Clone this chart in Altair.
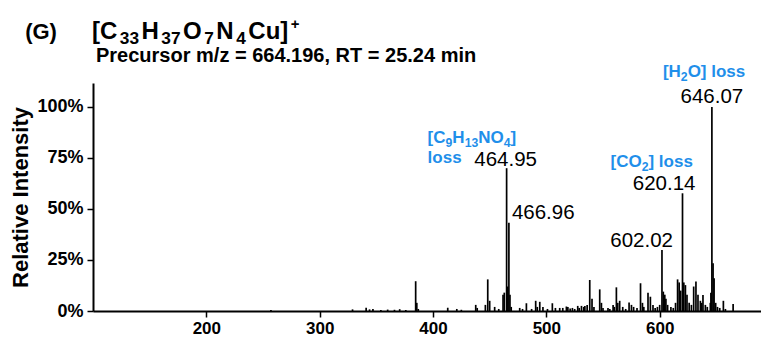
import altair as alt
import pandas as pd

FONT = "Liberation Sans"
BLUE = "#1f8fea"

# ---- spectrum peaks (m/z, relative intensity %) ----
peak_mz = [257, 329, 341, 344, 347, 354, 360, 366, 370.6, 376,
           384.7, 385.7, 387, 413, 421, 425, 437.7, 439, 446.2, 448.3,
           450, 454.4, 458, 461.8, 462.9, 464.95, 465.9, 466.96, 467.9, 469,
           476.5, 479, 482.4, 487, 490.6, 492, 494.2, 497, 501, 505.3,
           508, 511.8, 514.5, 517.7, 519, 521, 523, 525, 527.7, 529,
           531, 533, 534, 536, 538.3, 540.3, 542, 547.1, 548.6, 550,
           554.4, 556, 558.9, 560, 561.8, 563, 564.7, 567.4, 570, 573,
           575.1, 577, 580, 583.1, 584.8, 586, 589.7, 591.8, 594.1, 596,
           598, 600, 602.02, 603.2, 604.5, 605.5, 607, 609.9, 612, 614,
           615.8, 617.2, 618.5, 620.14, 621.3, 622.7, 624.1, 626, 628, 630,
           632, 633.8, 635.9, 637, 638.2, 640.3, 642, 644.7, 645.2, 646.07,
           647.1, 648, 649.4, 651, 653, 656.2, 658, 664.8]
peak_int = [0.5, 0.8, 1.6, 0.8, 1.0, 0.5, 0.7, 0.6, 0.9, 0.5,
            14.6, 4.0, 1.0, 1.6, 1.0, 0.6, 3.0, 1.5, 3.0, 15.5,
            5.0, 2.0, 1.0, 8.0, 9.0, 70.0, 12.0, 43.3, 8.0, 2.0,
            1.5, 1.0, 3.8, 1.0, 5.0, 2.0, 4.5, 2.0, 1.0, 3.8,
            1.5, 1.5, 1.5, 2.2, 2.0, 1.2, 1.5, 1.0, 2.5, 1.5,
            2.5, 2.0, 2.5, 3.0, 15.2, 6.0, 2.0, 10.6, 4.0, 1.5,
            1.5, 1.0, 3.0, 2.0, 11.6, 4.0, 5.0, 2.0, 1.0, 4.2,
            3.0, 2.0, 1.5, 13.6, 4.0, 2.0, 9.0, 7.0, 3.0, 1.5,
            2.0, 3.0, 29.9, 9.5, 8.0, 6.0, 3.0, 2.0, 1.5, 4.0,
            15.5, 14.0, 10.0, 57.7, 14.0, 12.7, 8.0, 4.0, 3.0, 12.0,
            14.4, 8.0, 5.0, 4.0, 7.8, 3.0, 2.0, 4.0, 9.0, 100.0,
            23.4, 16.0, 4.0, 2.0, 1.5, 5.0, 1.0, 3.4]

# ---- labelled peaks ----
label_mz = [464.95, 466.96, 602.02, 620.14, 646.07]
label_int = [70.0, 43.3, 29.9, 57.7, 100.0]
label_text = ["464.95", "466.96", "602.02", "620.14", "646.07"]

# ---- neutral-loss annotations: (text, kind) segments; kind n=normal, s=subscript ----
loss_c9 = [("[C", "n"), ("9", "s"), ("H", "n"), ("13", "s"), ("NO", "n"), ("4", "s"), ("]", "n")]
loss_c9b = [("loss", "n")]
loss_co2 = [("[CO", "n"), ("2", "s"), ("] loss", "n")]
loss_h2o = [("[H", "n"), ("2", "s"), ("O] loss", "n")]

x_ticks = [200, 300, 400, 500, 600]
y_ticks = [0, 25, 50, 75, 100]

title_segments = [("[C", "n"), ("33", "s"), ("H", "n"), ("37", "s"), ("O", "n"),
                  ("7", "s"), ("N", "n"), ("4", "s"), ("Cu]", "n"), ("+", "p")]
subtitle_text = "Precursor m/z = 664.196, RT = 25.24 min"
panel_text = "(G)"

# Arial/Liberation Sans Bold advance widths (em)
W = {"[": 0.333, "]": 0.333, "C": 0.722, "H": 0.722, "O": 0.778, "N": 0.722,
     "u": 0.611, "+": 0.584, " ": 0.278, "l": 0.278, "o": 0.611, "s": 0.556}
for d in "0123456789":
    W[d] = 0.556

peaks = pd.DataFrame({"mz": peak_mz, "inten": peak_int})
labels = pd.DataFrame({"mz": label_mz, "inten": label_int, "text": label_text})

xscale = alt.Scale(domain=[100, 689.4], nice=False, zero=False)
yscale = alt.Scale(domain=[0, 111.76], nice=False)

X = alt.X("mz:Q", scale=xscale,
          axis=alt.Axis(values=x_ticks, title=None, format="d"))
Y = alt.Y("inten:Q", scale=yscale,
          axis=alt.Axis(values=y_ticks, title="Relative Intensity",
                        labelExpr="datum.value + '%'"))

sticks = alt.Chart(peaks).mark_rule(color="black", strokeWidth=1.7).encode(
    x=X, y=Y, y2=alt.Y2(datum=0)
)


def peak_label(i, align, dx, dy):
    return alt.Chart(labels.iloc[[i]]).mark_text(
        align=align, baseline="alphabetic", dx=dx, dy=dy,
        fontSize=20.5, font=FONT, color="black"
    ).encode(x=X, y=Y, text="text:N")


def rich(segments, size, color, dx0, dy0, anchor=None, pos=None, gap=0.0, sub=0.22):
    """Lay out text segments with real subscripts / superscripts."""
    sizes = {"n": size, "s": size * 0.72, "p": size * 0.62}
    shifts = {"n": 0.0, "s": size * sub, "p": -size * 0.40}
    layers = []
    off = 0.0
    for txt, kind in segments:
        fs = sizes[kind]
        if anchor is not None:
            df = pd.DataFrame({"mz": [label_mz[anchor]], "inten": [label_int[anchor]], "t": [txt]})
            enc = dict(x=X, y=Y, text="t:N")
        else:
            df = pd.DataFrame({"t": [txt]})
            enc = dict(x=alt.value(pos[0]), y=alt.value(pos[1]), text="t:N")
        layers.append(alt.Chart(df).mark_text(
            align="left", baseline="alphabetic", dx=dx0 + off, dy=dy0 + shifts[kind],
            fontSize=fs, fontWeight="bold", font=FONT, color=color
        ).encode(**enc))
        off += sum(W.get(ch, 0.6) for ch in txt) * fs + gap
    return layers


def header(text, size, xpos, ypos, align="left"):
    return alt.Chart(pd.DataFrame({"t": [text]})).mark_text(
        align=align, baseline="alphabetic", fontSize=size, fontWeight="bold",
        font=FONT, color="black"
    ).encode(x=alt.value(xpos), y=alt.value(ypos), text="t:N")


layers = [
    sticks,
    peak_label(0, "center", -1, -2),
    peak_label(1, "left", 3, -4),
    peak_label(2, "right", 11, -3),
    peak_label(3, "right", 13, -3),
    peak_label(4, "center", 0, -4),
]
layers += rich(loss_c9, 17, BLUE, -79, -25, anchor=0)
layers += rich(loss_c9b, 17, BLUE, -79, -5, anchor=0)
layers += rich(loss_co2, 17, BLUE, -72, -26, anchor=3)
layers += rich(loss_h2o, 17, BLUE, -49, -30, anchor=4)
layers += rich(title_segments, 24, "black", 0, 0, pos=(-1, -44), gap=2.5, sub=0.2)
layers += [
    header(panel_text, 22, -52, -44, "center"),
    header(subtitle_text, 20, 3, -21),
]

chart = alt.layer(*layers).properties(
    width=668,
    height=228,
    autosize=alt.AutoSizeParams(type="none"),
    padding={"left": 85, "top": 75, "right": 0, "bottom": 26},
).configure_view(stroke=None).configure_axis(
    domainColor="black", domainWidth=2, tickColor="black", tickWidth=1.5,
    tickSize=6, grid=False, labelFont=FONT, labelFontSize=17,
    labelFontWeight="bold", labelColor="black", titleFont=FONT,
    titleFontSize=22, titleFontWeight="bold", titleColor="black",
    labelPadding=3, titlePadding=4,
)
chart = chart.configure_axisY(labelFontSize=18, labelPadding=4)

chart.save("out.html", embed_options={"renderer": "svg", "actions": False})
